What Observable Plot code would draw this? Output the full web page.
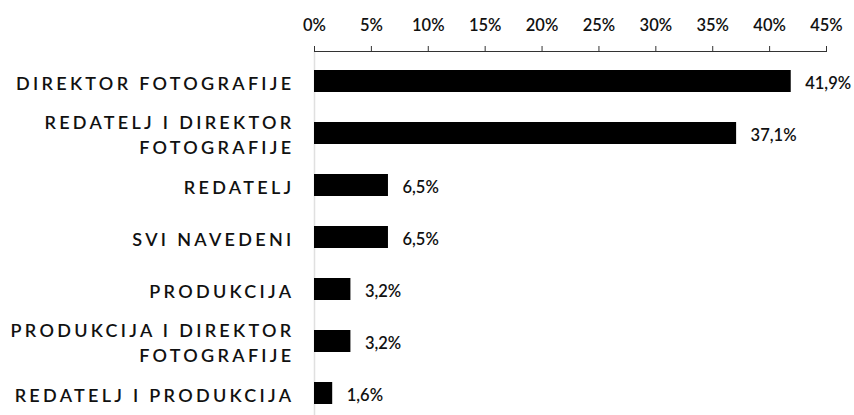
<!DOCTYPE html>
<html>
<head>
<meta charset="utf-8">
<script src="https://cdn.jsdelivr.net/npm/d3@7"></script>
<script src="https://cdn.jsdelivr.net/npm/@observablehq/plot@0.6"></script>
<style>
  html, body { margin: 0; padding: 0; background: #fff; }
  #chart svg { font-family: Lato, "Open Sans", sans-serif; }
  g[aria-label="y-axis tick label"] text { letter-spacing: 3.3px; }
</style>
</head>
<body>
<div id="chart"></div>
<script>
const categories = [
  "DIREKTOR FOTOGRAFIJE",
  "REDATELJ I DIREKTOR\nFOTOGRAFIJE",
  "REDATELJ",
  "SVI NAVEDENI",
  "PRODUKCIJA",
  "PRODUKCIJA I DIREKTOR\nFOTOGRAFIJE",
  "REDATELJ I PRODUKCIJA"
];
const values = [41.9, 37.1, 6.5, 6.5, 3.2, 3.2, 1.6];
const xTicks = [0, 5, 10, 15, 20, 25, 30, 35, 40, 45];

const data = categories.map((c, i) => ({category: c, value: values[i]}));
const fmt = v => v.toFixed(1).replace(".", ",") + "%";

const chart = Plot.plot({
  width: 854,
  height: 415,
  marginTop: 51,
  marginBottom: 0,
  marginLeft: 314,
  marginRight: 28,
  style: {fontFamily: "Lato, 'Open Sans', sans-serif", fontSize: "16px", fontWeight: 600, color: "#111", background: "#fff"},
  x: {domain: [0, 45], label: null},
  y: {domain: categories, paddingInner: 0.57, paddingOuter: 0.24, align: 0.64, label: null},
  marks: [
    Plot.ruleX([0], {stroke: "#e0e0e0", strokeWidth: 1.5}),
    Plot.frame({anchor: "top", stroke: "#333"}),
    Plot.axisX({
      anchor: "top",
      label: null,
      ticks: xTicks,
      tickFormat: d => d + "%",
      tickSize: 6,
      tickPadding: 15,
      fontSize: 16.5,
      fontWeight: 600,
      stroke: "#333",
      fill: "#111"
    }),
    Plot.barX(data, {x: "value", y: "category", fill: "#000"}),
    Plot.text(data, {x: "value", y: "category", text: d => fmt(d.value), textAnchor: "start", dx: 14, dy: 2, fontSize: 16.5, fontWeight: 600, fill: "#111"}),
    Plot.axisY({
      anchor: "left",
      label: null,
      tickSize: 0,
      tickPadding: 20,
      fontSize: 18,
      fontWeight: 600,
      lineHeight: 1.4,
      fill: "#111"
    })
  ]
});
document.getElementById("chart").appendChild(chart);
</script>
</body>
</html>
